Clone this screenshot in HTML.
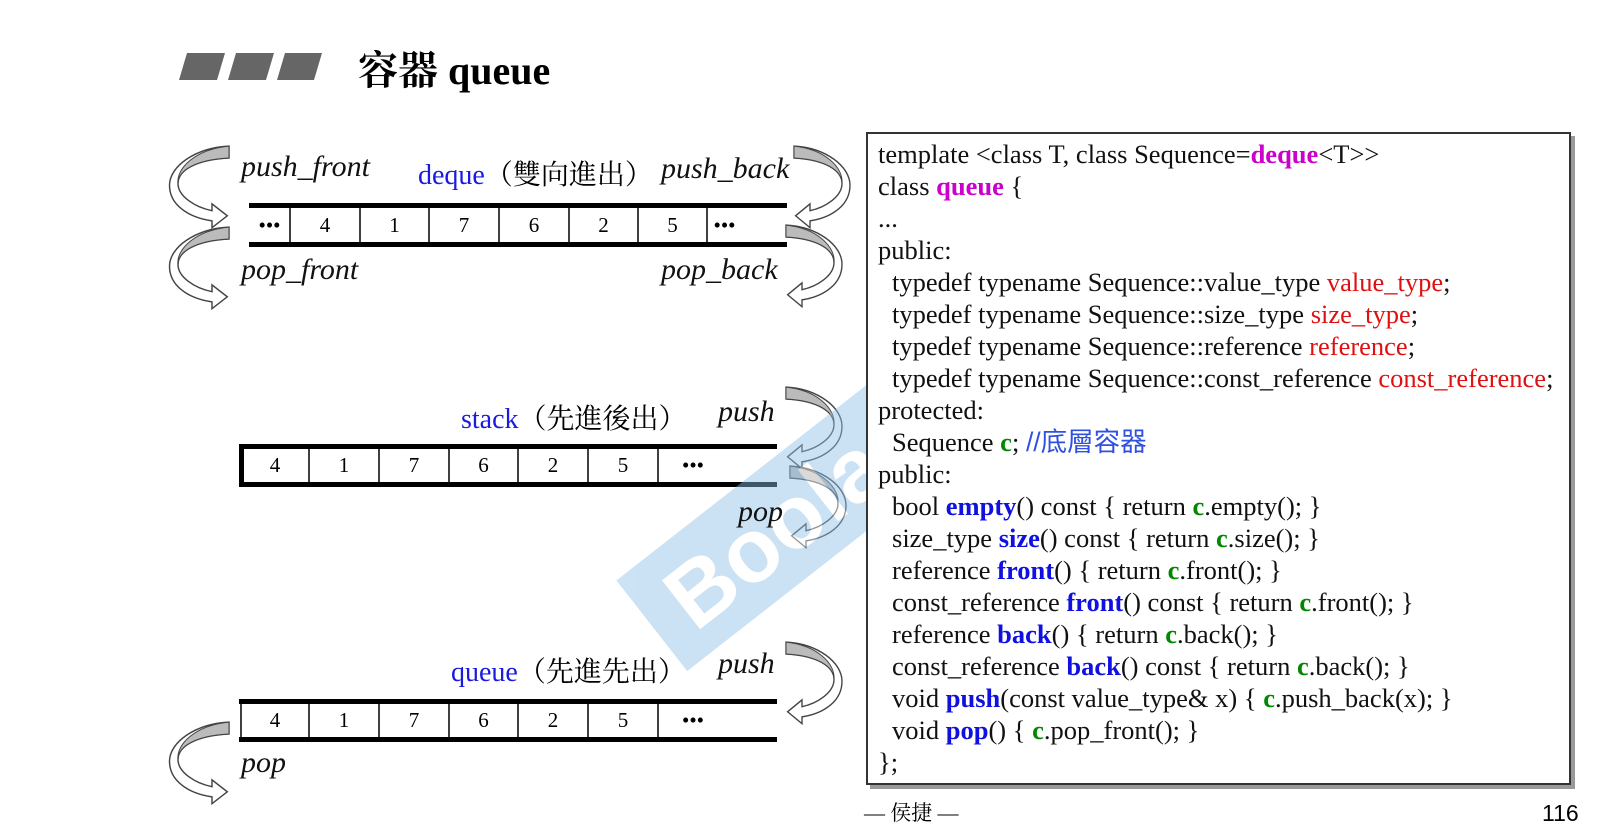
<!DOCTYPE html>
<html><head><meta charset="utf-8">
<style>
body{margin:0;width:1606px;height:838px;background:#fff;position:relative;overflow:hidden;font-family:"Liberation Serif","Noto Serif CJK SC",serif;}
.a{position:absolute;white-space:nowrap;}
.it{font-style:italic;font-size:30px;color:#111;}
.cell{position:absolute;font-size:21px;text-align:center;}
.code{position:absolute;left:866px;top:132px;width:701px;height:649px;border:2px solid #333;box-shadow:4px 4px 0 #999;background:#fff;}
.code div{position:absolute;left:10px;font-size:26.5px;line-height:31px;white-space:nowrap;color:#111;}
.code div.i{left:24px}
.m{color:#c0c;font-weight:bold}.r{color:#e01010}.g{color:#080;font-weight:bold}.b{color:#1010e0;font-weight:bold}
</style></head><body>
<svg class="a" style="left:0;top:0" width="1606" height="838">
<polygon points="187,53 225,53 217,80 179,80" fill="#666"/>
<polygon points="236,53 274,53 266,80 228,80" fill="#666"/>
<polygon points="285,53 322,53 314,80 277,80" fill="#666"/>
<rect x="249" y="203" width="538" height="5" fill="#000"/>
<rect x="249" y="242" width="538" height="5" fill="#000"/>
<g stroke="#000" stroke-width="1.5">
<line x1="290" y1="206" x2="290" y2="244"/><line x1="360" y1="206" x2="360" y2="244"/><line x1="429" y1="206" x2="429" y2="244"/><line x1="499" y1="206" x2="499" y2="244"/><line x1="569" y1="206" x2="569" y2="244"/><line x1="638" y1="206" x2="638" y2="244"/><line x1="707" y1="206" x2="707" y2="244"/>
</g>
<rect x="239" y="444" width="538" height="5" fill="#000"/>
<rect x="239" y="482" width="538" height="5" fill="#000"/>
<rect x="239" y="444" width="5" height="43" fill="#000"/>
<g stroke="#000" stroke-width="1.5">
<line x1="309" y1="447" x2="309" y2="484"/><line x1="379" y1="447" x2="379" y2="484"/><line x1="449" y1="447" x2="449" y2="484"/><line x1="518" y1="447" x2="518" y2="484"/><line x1="588" y1="447" x2="588" y2="484"/><line x1="658" y1="447" x2="658" y2="484"/>
</g>
<rect x="239" y="699" width="538" height="5" fill="#000"/>
<rect x="239" y="737" width="538" height="5" fill="#000"/>
<g stroke="#000" stroke-width="1.5">
<line x1="241" y1="702" x2="241" y2="739"/>
<line x1="309" y1="702" x2="309" y2="739"/><line x1="379" y1="702" x2="379" y2="739"/><line x1="449" y1="702" x2="449" y2="739"/><line x1="518" y1="702" x2="518" y2="739"/><line x1="588" y1="702" x2="588" y2="739"/><line x1="658" y1="702" x2="658" y2="739"/>
</g>
<defs>
<g id="arL">
<path d="M60,0 C20,2 0,15 0,30 C0,45 20,58 40,62 L40,54 L58,68 L40,82 L40,74 C12,70 -10,55 -10,32 C-10,10 20,-12 60,-14 Z" fill="#fff" stroke="#444" stroke-width="1.7"/>
<path d="M60,0 C20,2 0,15 0,30 C-2,12 20,-10 60,-14 Z" fill="#bbb" stroke="#444" stroke-width="1.2"/>
</g>
</defs>
<use href="#arL" transform="translate(178,158) scale(0.85)"/>
<use href="#arL" transform="translate(178,239) scale(0.85)"/>
<use href="#arL" transform="translate(178,734) scale(0.85)"/>
<use href="#arL" transform="translate(842,158) scale(-0.8,0.85)"/>
<use href="#arL" transform="translate(834,237) scale(-0.8,0.85)"/>
<use href="#arL" transform="translate(834,399) scale(-0.8,0.85)"/>
<use href="#arL" transform="translate(838,478) scale(-0.8,0.85)"/>
<use href="#arL" transform="translate(834,654) scale(-0.8,0.85)"/>
<g transform="translate(740,560) rotate(-38)" opacity="0.45">
<rect x="-110" y="-60" width="400" height="115" fill="#8ec0e8"/>
<text x="-80" y="30" font-family="Liberation Sans" font-weight="bold" font-size="90" fill="#fff">Boolan</text>
</g>
</svg>
<div class="a" style="left:358px;top:39px;font-size:40px;font-weight:bold;">容器 queue</div>

<div class="a it" style="left:241px;top:150px">push_front</div>
<div class="a" style="left:418px;top:153px;font-size:28px"><span style="color:#1a1ae0">deque</span>（雙向進出）</div>
<div class="a it" style="left:661px;top:152px">push_back</div>
<div class="a it" style="left:241px;top:253px">pop_front</div>
<div class="a it" style="left:661px;top:253px">pop_back</div>
<div class="cell" style="left:249px;top:213px;width:41px">•••</div>
<div class="cell" style="left:290px;top:213px;width:70px">4</div>
<div class="cell" style="left:360px;top:213px;width:69px">1</div>
<div class="cell" style="left:429px;top:213px;width:70px">7</div>
<div class="cell" style="left:499px;top:213px;width:70px">6</div>
<div class="cell" style="left:569px;top:213px;width:69px">2</div>
<div class="cell" style="left:638px;top:213px;width:69px">5</div>
<div class="cell" style="left:707px;top:213px;width:35px">•••</div>

<div class="a" style="left:461px;top:397px;font-size:28px"><span style="color:#1a1ae0">stack</span>（先進後出）</div>
<div class="a it" style="left:718px;top:395px">push</div>
<div class="a it" style="left:738px;top:495px">pop</div>
<div class="cell" style="left:241px;top:453px;width:68px">4</div>
<div class="cell" style="left:309px;top:453px;width:70px">1</div>
<div class="cell" style="left:379px;top:453px;width:70px">7</div>
<div class="cell" style="left:449px;top:453px;width:69px">6</div>
<div class="cell" style="left:518px;top:453px;width:70px">2</div>
<div class="cell" style="left:588px;top:453px;width:70px">5</div>
<div class="cell" style="left:658px;top:453px;width:70px">•••</div>

<div class="a" style="left:451px;top:650px;font-size:28px"><span style="color:#1a1ae0">queue</span>（先進先出）</div>
<div class="a it" style="left:718px;top:647px">push</div>
<div class="a it" style="left:241px;top:746px">pop</div>
<div class="cell" style="left:241px;top:708px;width:68px">4</div>
<div class="cell" style="left:309px;top:708px;width:70px">1</div>
<div class="cell" style="left:379px;top:708px;width:70px">7</div>
<div class="cell" style="left:449px;top:708px;width:69px">6</div>
<div class="cell" style="left:518px;top:708px;width:70px">2</div>
<div class="cell" style="left:588px;top:708px;width:70px">5</div>
<div class="cell" style="left:658px;top:708px;width:70px">•••</div>

<div class="code">
<div style="top:5px">template &lt;class T, class Sequence=<span class="m">deque</span>&lt;T&gt;&gt;</div>
<div style="top:37px">class <span class="m">queue</span> {</div>
<div style="top:69px">...</div>
<div style="top:101px">public:</div>
<div class="i" style="top:133px">typedef typename Sequence::value_type <span class="r">value_type</span>;</div>
<div class="i" style="top:165px">typedef typename Sequence::size_type <span class="r">size_type</span>;</div>
<div class="i" style="top:197px">typedef typename Sequence::reference <span class="r">reference</span>;</div>
<div class="i" style="top:229px">typedef typename Sequence::const_reference <span class="r">const_reference</span>;</div>
<div style="top:261px">protected:</div>
<div class="i" style="top:293px">Sequence <span class="g">c</span>;  <span style="color:#3050e0;font-family:'Liberation Sans','Noto Sans CJK SC',sans-serif">//底層容器</span></div>
<div style="top:325px">public:</div>
<div class="i" style="top:357px">bool <span class="b">empty</span>() const { return <span class="g">c</span>.empty(); }</div>
<div class="i" style="top:389px">size_type <span class="b">size</span>() const { return <span class="g">c</span>.size(); }</div>
<div class="i" style="top:421px">reference <span class="b">front</span>() { return <span class="g">c</span>.front(); }</div>
<div class="i" style="top:453px">const_reference <span class="b">front</span>() const { return <span class="g">c</span>.front(); }</div>
<div class="i" style="top:485px">reference <span class="b">back</span>() { return <span class="g">c</span>.back(); }</div>
<div class="i" style="top:517px">const_reference <span class="b">back</span>() const { return <span class="g">c</span>.back(); }</div>
<div class="i" style="top:549px">void <span class="b">push</span>(const value_type&amp; x) { <span class="g">c</span>.push_back(x); }</div>
<div class="i" style="top:581px">void <span class="b">pop</span>() { <span class="g">c</span>.pop_front(); }</div>
<div style="top:613px">};</div>
</div>
<div class="a" style="left:864px;top:797px;font-size:21px">— 侯捷 —</div>
<div class="a" style="left:1542px;top:800px;font-size:23px;font-family:'Liberation Sans',sans-serif">116</div>
</body></html>
